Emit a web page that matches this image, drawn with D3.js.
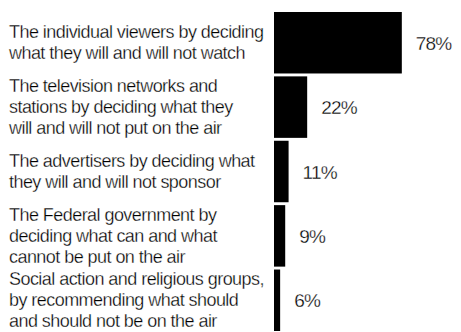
<!DOCTYPE html>
<html>
<head>
<meta charset="utf-8">
<script src="https://cdn.jsdelivr.net/npm/d3@7"></script>
<style>
  html, body { margin: 0; padding: 0; background: #fff; }
  svg { display: block; }
  /* light type: a thin white stroke trims the glyph edges */
  text { font-family: "Liberation Sans", Arial, Helvetica, sans-serif; fill: #000;
         stroke: #fff; stroke-width: 0.3px; }
</style>
</head>
<body>
<script>
// Who should decide what is shown on television (share of respondents)
const categories = [
  ["The individual viewers by deciding", "what they will and will not watch"],
  ["The television networks and", "stations by deciding what they", "will and will not put on the air"],
  ["The advertisers by deciding what", "they will and will not sponsor"],
  ["The Federal government by", "deciding what can and what", "cannot be put on the air"],
  ["Social action and religious groups,", "by recommending what should", "and should not be on the air"]
];
const values = [78, 22, 11, 9, 6];
const valueLabels = ["78%", "22%", "11%", "9%", "6%"];

const W = 461, H = 332;
const svg = d3.select("body").append("svg")
  .attr("width", W).attr("height", H);

const ids = d3.range(values.length);

const y = d3.scaleBand()
  .domain(ids)
  .range([12, 331])
  .paddingInner(0.045)
  .paddingOuter(0);

const x = d3.scaleLinear()
  .domain([0, 100])
  .range([270, 439]);

const barLeft = 274;
const lineH = 21;

// bars
svg.append("g").selectAll("rect")
  .data(ids)
  .join("rect")
  .attr("x", barLeft)
  .attr("y", i => y(i))
  .attr("width", i => x(values[i]) - barLeft)
  .attr("height", y.bandwidth())
  .attr("fill", "#000");

// value labels
svg.append("g").selectAll("text")
  .data(ids)
  .join("text")
  .attr("x", i => x(values[i]) + 14)
  .attr("y", i => y(i) + y.bandwidth() / 2 + 7)
  .attr("font-size", 19)
  .attr("letter-spacing", -0.8)
  .text(i => valueLabels[i]);

// category labels, centred on each bar
const cat = svg.append("g").selectAll("text")
  .data(ids)
  .join("text")
  .attr("font-size", 18)
  .attr("letter-spacing", -0.55)
  .attr("y", i => y(i) + y.bandwidth() / 2 + 6 - (categories[i].length - 1) * lineH / 2);

cat.selectAll("tspan")
  .data(i => categories[i])
  .join("tspan")
  .attr("x", 9)
  .attr("dy", (d, j) => j === 0 ? 0 : lineH)
  .text(d => d);
</script>
</body>
</html>
